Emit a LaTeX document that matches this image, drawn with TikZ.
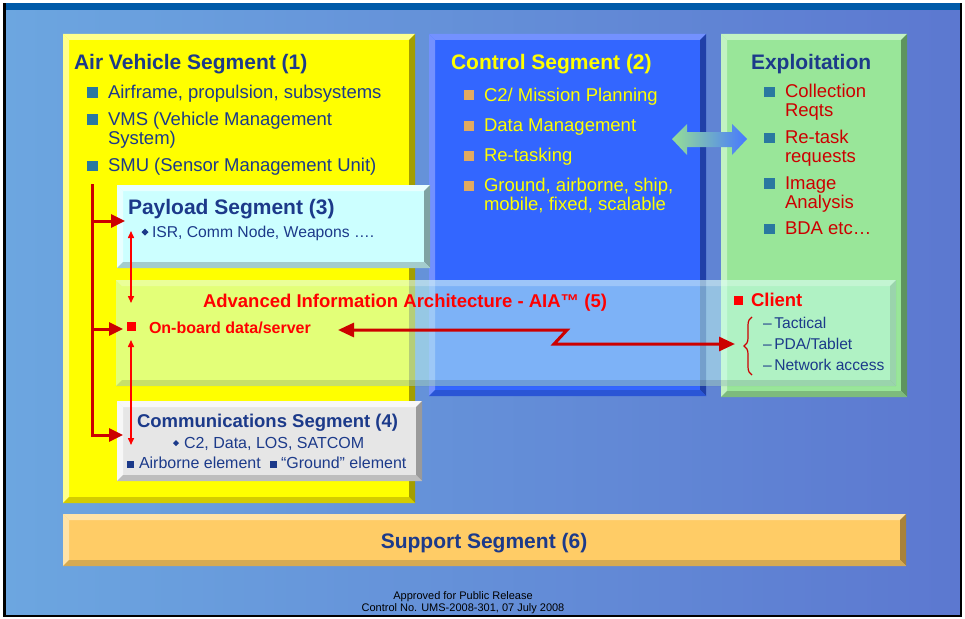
\documentclass[tikz,border=0pt]{standalone}
\usepackage{fontspec}
\setmainfont{Liberation Sans}
\usetikzlibrary{arrows.meta,shapes.geometric,decorations.pathreplacing,fit}

\definecolor{navy}{RGB}{28,58,138}
\definecolor{darkred}{RGB}{204,0,0}
\definecolor{brightred}{RGB}{255,0,0}
\definecolor{ctrlyel}{RGB}{255,255,0}
\definecolor{bgL}{RGB}{108,166,224}
\definecolor{bgR}{RGB}{92,120,208}
\definecolor{topbar}{RGB}{0,90,168}
\definecolor{ylw}{RGB}{255,255,0}
\definecolor{ylwL}{RGB}{255,255,140}
\definecolor{ylwD}{RGB}{163,158,0}
\definecolor{ylwM}{RGB}{212,204,0}
\definecolor{blu}{RGB}{51,102,255}
\definecolor{bluL}{RGB}{115,145,255}
\definecolor{bluD}{RGB}{32,64,168}
\definecolor{bluM}{RGB}{42,85,213}
\definecolor{grn}{RGB}{153,230,153}
\definecolor{grnL}{RGB}{194,242,194}
\definecolor{grnD}{RGB}{94,148,94}
\definecolor{grnM}{RGB}{125,187,125}
\definecolor{cyn}{RGB}{204,255,255}
\definecolor{cynL}{RGB}{232,255,255}
\definecolor{cynD}{RGB}{127,163,163}
\definecolor{cynM}{RGB}{163,204,204}
\definecolor{gry}{RGB}{230,230,230}
\definecolor{gryL}{RGB}{247,247,247}
\definecolor{gryD}{RGB}{154,154,154}
\definecolor{gryM}{RGB}{189,189,189}
\definecolor{org}{RGB}{255,204,102}
\definecolor{orgL}{RGB}{255,227,168}
\definecolor{orgD}{RGB}{168,130,58}
\definecolor{orgM}{RGB}{214,170,82}
\definecolor{aiafill}{RGB}{200,255,240}
\definecolor{tealb}{RGB}{42,120,160}
\definecolor{tanb}{RGB}{226,170,96}
\definecolor{arrG}{RGB}{150,222,150}
\definecolor{arrB}{RGB}{70,120,255}

\newcommand{\fsz}[1]{\fontsize{#1}{#1}\selectfont}

\newcommand{\bevbox}[9]{%
  \fill[#6] (#2,#3) rectangle (#4,#5);
  \fill[#7] (#2,#3) -- (#4,#3) -- ({#4-6},{#3+6}) -- ({#2+6},{#3+6}) -- cycle;
  \fill[#7] (#2,#3) -- ({#2+6},{#3+6}) -- ({#2+6},{#5-6}) -- (#2,#5) -- cycle;
  \fill[#8] (#4,#3) -- (#4,#5) -- ({#4-6},{#5-6}) -- ({#4-6},{#3+6}) -- cycle;
  \fill[#9] (#2,#5) -- (#4,#5) -- ({#4-6},{#5-6}) -- ({#2+6},{#5-6}) -- cycle;
  \path (#2,#3) coordinate (#1-nw) (#4,#5) coordinate (#1-se);
  \node[fit=(#1-nw)(#1-se)] (#1) {};
}

\tikzset{
  every node/.style={inner sep=0pt, outer sep=0pt},
  head/.style={anchor=base west, text=navy, font=\fsz{21}\bfseries},
  item/.style={anchor=base west, text=navy, font=\fsz{18.5}},
  citem/.style={anchor=base west, text=ctrlyel, font=\fsz{18.5}},
  ritem/.style={anchor=base west, text=darkred, font=\fsz{18.5}},
  small/.style={anchor=base west, text=navy, font=\fsz{15.7}},
  smallc/.style={anchor=base west, text=navy, font=\fsz{16}},
  cli/.style={anchor=base west, text=navy, font=\fsz{15.6}},
  tealsq/.style={rectangle, fill=tealb, minimum size=10.5pt},
  tansq/.style={rectangle, fill=tanb, minimum size=10.5pt},
  redsq/.style={rectangle, fill=brightred, minimum size=9pt},
  navysq/.style={rectangle, fill=navy, minimum size=7pt},
  dmd/.style={diamond, fill=navy, minimum size=7pt},
  redthick/.style={draw=darkred, line width=3pt},
  redthin/.style={draw=brightred, line width=1.5pt},
  bigtip/.tip={Triangle[length=14pt,width=13pt]},
  longtip/.tip={Triangle[length=16pt,width=14pt]},
  smalltip/.tip={Triangle[length=7pt,width=6pt]},
}

\begin{document}
\begin{tikzpicture}[x=1pt,y=-1pt]
\useasboundingbox (0,0) rectangle (965,618);
\fill[white] (0,0) rectangle (965,618);
\shade[left color=bgL, right color=bgR] (5,10) rectangle (960,615);
\fill[topbar] (5,3) rectangle (962,10);
\fill[black] (3,3) rectangle (5.5,617);
\fill[black] (959.5,3) rectangle (962,617);
\fill[black] (3,614.5) rectangle (962,617);

% boxes
\bevbox{avs}{63}{34}{415}{503}{ylw}{ylwL}{ylwD}{ylwM}
\bevbox{cs}{429}{34}{706}{396}{blu}{bluL}{bluD}{bluM}
\bevbox{ex}{721}{34}{907}{397}{grn}{grnL}{grnD}{grnM}
\bevbox{pl}{117}{185}{430}{268}{cyn}{cynL}{cynD}{cynM}
\bevbox{cm}{117}{401}{422}{481}{gry}{gryL}{gryD}{gryM}
\bevbox{sp}{63}{514}{906}{566}{org}{orgL}{orgD}{orgM}

% AIA overlay
\fill[aiafill, fill opacity=0.5] (116,280) rectangle (896,386);
\fill[white, fill opacity=0.25] (116,280) -- (896,280) -- (890,286) -- (122,286) -- cycle;
\fill[black, fill opacity=0.12] (116,386) -- (896,386) -- (890,380) -- (122,380) -- cycle;
\fill[black, fill opacity=0.12] (896,280) -- (896,386) -- (890,380) -- (890,286) -- cycle;
\path (116,280) coordinate (aia-nw) (896,386) coordinate (aia-se);
\node[fit=(aia-nw)(aia-se)] (aia) {};

% fat double arrow between control and exploitation
\shade[left color=arrG, right color=arrB]
  (672,139) -- (687,124) -- (687,132) -- (732,132) -- (732,124) -- (747,139)
  -- (732,155) -- (732,147) -- (687,147) -- (687,155) -- cycle;

% Air Vehicle Segment
\node[head] (avsT) at (74,70) {Air Vehicle Segment (1)};
\node[tealsq] (avb1) at (92.5,92.5) {};
\node[item] (avi1) at (108,98) {Airframe, propulsion, subsystems};
\node[tealsq] (avb2) at (92.5,119.5) {};
\node[item] (avi2) at (108,125) {VMS (Vehicle Management};
\node[item] (avi2b) at (108,144) {System)};
\node[tealsq] (avb3) at (92.5,166) {};
\node[item] (avi3) at (108,171) {SMU (Sensor Management Unit)};

% Control Segment
\node[head, text=ctrlyel] (csT) at (451,70) {Control Segment (2)};
\node[tansq] (csb1) at (469,95) {};
\node[citem] (csi1) at (484,101) {C2/ Mission Planning};
\node[tansq] (csb2) at (469,126) {};
\node[citem] (csi2) at (484,131) {Data Management};
\node[tansq] (csb3) at (469,156) {};
\node[citem] (csi3) at (484,161) {Re-tasking};
\node[tansq] (csb4) at (469,186) {};
\node[citem] (csi4) at (484,191) {Ground, airborne, ship,};
\node[citem] (csi4b) at (484,210) {mobile, fixed, scalable};

% Exploitation
\node[head] (exT) at (751,70) {Exploitation};
\node[tealsq] (exb1) at (769.5,92) {};
\node[ritem] (exi1) at (785,97) {Collection};
\node[ritem] (exi1b) at (785,116) {Reqts};
\node[tealsq] (exb2) at (769.5,138) {};
\node[ritem] (exi2) at (785,143) {Re-task};
\node[ritem] (exi2b) at (785,162) {requests};
\node[tealsq] (exb3) at (769.5,183.5) {};
\node[ritem] (exi3) at (785,189) {Image};
\node[ritem] (exi3b) at (785,208) {Analysis};
\node[tealsq] (exb4) at (769.5,229) {};
\node[ritem] (exi4) at (785,234) {BDA etc…};

% Payload
\node[head] (plT) at (128,214) {Payload Segment (3)};
\node[dmd] (pld) at (145,232) {};
\node[small] (pli) at (152,237) {ISR, Comm Node, Weapons ….};

% AIA
\node[anchor=base west, text=brightred, font=\fsz{18.5}\bfseries] (aiaT) at (203,307) {Advanced Information Architecture - AIA™ (5)};
\node[redsq] (srvsq) at (131.5,326.5) {};
\node[anchor=base west, text=brightred, font=\fsz{16}\bfseries] (srv) at (149,333) {On-board data/server};

% Communications
\node[anchor=base west, text=navy, font=\fsz{18.5}\bfseries] (cmT) at (137,427) {Communications Segment (4)};
\node[dmd, minimum size=6pt] (cmd) at (176,443) {};
\node[smallc] (cmi1) at (184,448) {C2, Data, LOS, SATCOM};
\node[navysq] (cmsq1) at (130.5,464) {};
\node[smallc] (cmi2) at (139,468) {Airborne element};
\node[navysq] (cmsq2) at (273.5,464) {};
\node[smallc] (cmi3) at (281,468) {“Ground” element};

% Client
\node[redsq] (clsq) at (738.5,300) {};
\node[anchor=base west, text=brightred, font=\fsz{18.5}\bfseries] (clT) at (751,306) {Client};
\node[cli] (cl1) at (763,328) {–\,Tactical};
\node[cli] (cl2) at (763,349) {–\,PDA/Tablet};
\node[cli] (cl3) at (763,370) {–\,Network access};
\draw[darkred, line width=1.2pt, decorate, decoration={brace, amplitude=8pt}] (752,375) -- (752,317);

% Support
\node[anchor=base, text=navy, font=\fsz{21}\bfseries] (spT) at (484,548) {Support Segment (6)};

% footer
\node[anchor=base, text=black, font=\fsz{11}] (ft1) at (463,599) {Approved for Public Release};
\node[anchor=base, text=black, font=\fsz{11}] (ft2) at (463,611) {Control No. UMS-2008-301, 07 July 2008};

% connectors
\coordinate (tk0) at (92,184);
\coordinate (tk1) at (92,221);
\coordinate (tk2) at (92,329);
\coordinate (plin) at (125,221);
\coordinate (srvin) at (123,329);
\coordinate (cmin) at (123,435);
\draw[redthick, -bigtip] (tk0) |- (cmin);
\draw[redthick, -bigtip] (tk1) -- (plin);
\draw[redthick, -bigtip] (tk2) -- (srvin);

\coordinate (a1) at (131,231);
\coordinate (a2) at (131,303);
\coordinate (a3) at (131,340);
\coordinate (a4) at (131,445);
\draw[redthin, smalltip-smalltip] (a1) -- (a2);
\draw[redthin, smalltip-smalltip] (a3) -- (a4);

\coordinate (srvout) at (338,330);
\coordinate (z1) at (567,330);
\coordinate (z2) at (554,344);
\coordinate (clin) at (735,344);
\draw[redthick, line join=miter, longtip-longtip] (srvout) -- (z1) -- (z2) -- (clin);
\end{tikzpicture}
\end{document}
